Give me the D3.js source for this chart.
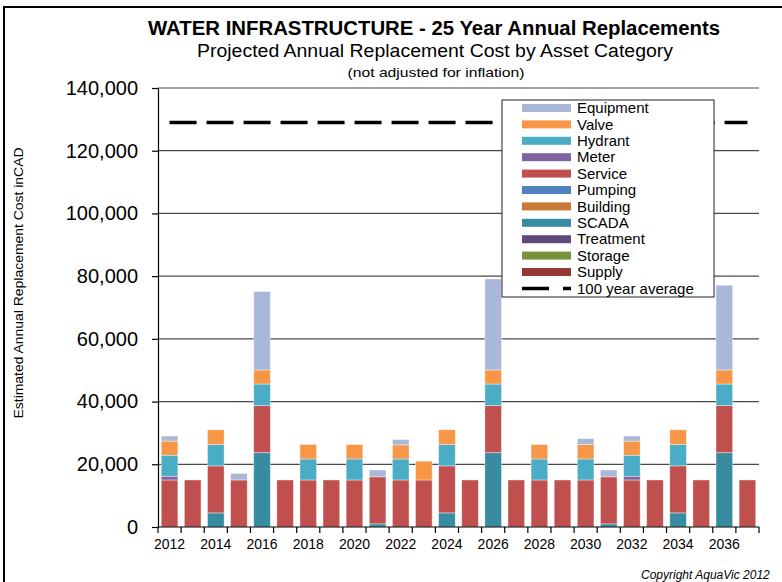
<!DOCTYPE html>
<meta charset="utf-8">
<style>
  body { margin: 0; background: #fff; }
  text { font-family: Arial, "Liberation Sans", sans-serif; fill: #000; }
</style>
<svg width="782" height="582"></svg>
<script src="https://d3js.org/d3.v7.min.js"></script>
<script>

var years = [2012, 2013, 2014, 2015, 2016, 2017, 2018, 2019, 2020, 2021, 2022, 2023, 2024,
             2025, 2026, 2027, 2028, 2029, 2030, 2031, 2032, 2033, 2034, 2035, 2036, 2037];

var supply    = [0,0,0,0,0,0,0,0,0,0,0,0,0,0,0,0,0,0,0,0,0,0,0,0,0,0];
var storage   = [0,0,0,0,0,0,0,0,0,0,0,0,0,0,0,0,0,0,0,0,0,0,0,0,0,0];
var treatment = [0,0,0,0,0,0,0,0,0,0,0,0,0,0,0,0,0,0,0,0,0,0,0,0,0,0];
var scada     = [0,0,4500,0,23700,0,0,0,0,1000,0,0,4500,0,23700,0,0,0,0,1000,0,0,4500,0,23700,0];
var building  = [0,0,0,0,0,0,0,0,0,0,0,0,0,0,0,0,0,0,0,0,0,0,0,0,0,0];
var pumping   = [0,0,0,0,0,0,0,0,0,0,0,0,0,0,0,0,0,0,0,0,0,0,0,0,0,0];
var service   = [15000,15000,15000,15000,15000,15000,15000,15000,15000,15000,15000,15000,15000,
                 15000,15000,15000,15000,15000,15000,15000,15000,15000,15000,15000,15000,15000];
var meter     = [1200,0,0,0,0,0,0,0,0,0,0,0,0,0,0,0,0,0,0,0,1200,0,0,0,0,0];
var hydrant   = [6700,0,6800,0,6900,0,6700,0,6700,0,6700,0,6800,0,6900,0,6700,0,6700,0,6700,0,6800,0,6900,0];
var valve     = [4500,0,4700,0,4500,0,4600,0,4600,0,4500,6000,4700,0,4500,0,4600,0,4600,0,4500,0,4700,0,4500,0];
var equipment = [1600,0,0,2100,25000,0,0,0,0,2200,1700,0,0,0,29000,0,0,0,1900,2200,1600,0,0,0,27000,0];

var average = 129000;

var categories = ["Supply", "Storage", "Treatment", "SCADA", "Building", "Pumping",
                  "Service", "Meter", "Hydrant", "Valve", "Equipment"];
var seriesValues = [supply, storage, treatment, scada, building, pumping,
                    service, meter, hydrant, valve, equipment];
var colors = ["#953735", "#77933C", "#604A7B", "#378CA2", "#C87A3A", "#4F81BD",
              "#C0504D", "#8064A2", "#4BACC6", "#F79646", "#A9B8D9"];

var yTicks = [0, 20000, 40000, 60000, 80000, 100000, 120000, 140000];

var svg = d3.select("svg"),
    plotLeft = 158, plotRight = 759, plotTop = 88, plotBottom = 527;

var rows = years.map(function(yr, i) {
  var r = {year: yr};
  categories.forEach(function(c, j) { r[c] = seriesValues[j][i]; });
  return r;
});

var x = d3.scaleBand()
    .domain(years)
    .range([plotLeft, plotRight])
    .paddingInner(0.28)
    .paddingOuter(0.14);

var y = d3.scaleLinear()
    .domain([0, 140000])
    .range([plotBottom, plotTop]);

var color = d3.scaleOrdinal().domain(categories).range(colors);

// outer frame
svg.append("rect")
    .attr("x", 4).attr("y", 7)
    .attr("width", 800).attr("height", 600)
    .attr("fill", "none")
    .attr("stroke", "#000")
    .attr("stroke-width", 2);

// titles
svg.append("text")
    .attr("x", 434).attr("y", 35)
    .attr("text-anchor", "middle")
    .attr("font-size", 20).attr("font-weight", "bold")
    .attr("textLength", 572).attr("lengthAdjust", "spacingAndGlyphs")
    .text("WATER INFRASTRUCTURE - 25 Year Annual  Replacements");

svg.append("text")
    .attr("x", 435).attr("y", 57)
    .attr("text-anchor", "middle")
    .attr("font-size", 18)
    .attr("textLength", 476).attr("lengthAdjust", "spacingAndGlyphs")
    .text("Projected Annual  Replacement  Cost by Asset Category");

svg.append("text")
    .attr("x", 436).attr("y", 77)
    .attr("text-anchor", "middle")
    .attr("font-size", 13)
    .attr("textLength", 177).attr("lengthAdjust", "spacingAndGlyphs")
    .text("(not adjusted  for inflation)");

// gridlines
svg.append("g")
  .selectAll("line")
  .data(yTicks.slice(1))
  .join("line")
    .attr("x1", plotLeft).attr("x2", plotRight)
    .attr("y1", function(d) { return y(d); })
    .attr("y2", function(d) { return y(d); })
    .attr("stroke", "#4a4a4a")
    .attr("stroke-width", 1.2);

// bars
var stack = d3.stack().keys(categories)(rows);

svg.append("g")
  .selectAll("g")
  .data(stack)
  .join("g")
    .attr("fill", function(d) { return color(d.key); })
  .selectAll("rect")
  .data(function(d) { return d.filter(function(s) { return s[1] > s[0]; }); })
  .join("rect")
    .attr("x", function(d) { return x(d.data.year); })
    .attr("width", x.bandwidth())
    .attr("y", function(d) { return y(d[1]); })
    .attr("height", function(d) { return y(d[0]) - y(d[1]); })
    .attr("stroke", "#fff")
    .attr("stroke-opacity", 0.5)
    .attr("stroke-width", 0.8);

// 100 year average
svg.append("line")
    .attr("x1", x(years[0]) + x.bandwidth() / 2)
    .attr("x2", x(years[years.length - 1]) + x.bandwidth() / 2)
    .attr("y1", y(average)).attr("y2", y(average))
    .attr("stroke", "#000")
    .attr("stroke-width", 3.5)
    .attr("stroke-dasharray", "27,10");

// y axis
var yAxis = svg.append("g")
    .attr("transform", "translate(" + plotLeft + ",0)")
    .call(d3.axisLeft(y).tickValues(yTicks).tickSize(6).tickPadding(14)
      .tickFormat(d3.format(",")));
yAxis.select(".domain").attr("stroke", "#000").attr("stroke-width", 1.2);
yAxis.selectAll(".tick line").attr("stroke", "#000").attr("stroke-width", 1.2);
yAxis.selectAll("text")
    .attr("font-family", "Arial, 'Liberation Sans', sans-serif")
    .attr("font-size", 20).attr("fill", "#000");

// x axis: tick marks on category boundaries, labels every other year
var xAxis = svg.append("g")
    .attr("transform", "translate(0," + plotBottom + ")");
xAxis.append("line")
    .attr("x1", plotLeft).attr("x2", plotRight)
    .attr("stroke", "#000").attr("stroke-width", 1.2);
xAxis.selectAll(".tk")
  .data(years.concat([null]))
  .join("line")
    .attr("class", "tk")
    .attr("x1", function(d, i) { return plotLeft + i * x.step(); })
    .attr("x2", function(d, i) { return plotLeft + i * x.step(); })
    .attr("y1", 0).attr("y2", 6)
    .attr("stroke", "#000").attr("stroke-width", 1.2);
xAxis.selectAll("text")
  .data(years.filter(function(d, i) { return i % 2 === 0; }))
  .join("text")
    .attr("x", function(d) { return x(d) + x.bandwidth() / 2; })
    .attr("y", 22)
    .attr("text-anchor", "middle")
    .attr("font-size", 14)
    .text(function(d) { return d; });

// y axis title
svg.append("text")
    .attr("transform", "translate(23,283) rotate(-90)")
    .attr("text-anchor", "middle")
    .attr("font-size", 13.5)
    .attr("textLength", 271).attr("lengthAdjust", "spacingAndGlyphs")
    .text("Estimated  Annual  Replacement  Cost  inCAD");

// legend
var legend = svg.append("g");
legend.append("rect")
    .attr("x", 502).attr("y", 100)
    .attr("width", 212).attr("height", 197)
    .attr("fill", "#fff")
    .attr("stroke", "#222").attr("stroke-width", 1);

var legendKeys = categories.slice().reverse();
var rowH = 16.4;

var item = legend.selectAll(".item")
  .data(legendKeys)
  .join("g")
    .attr("class", "item")
    .attr("transform", function(d, i) { return "translate(0," + (108 + i * rowH) + ")"; });
item.append("rect")
    .attr("x", 522).attr("y", -4)
    .attr("width", 49).attr("height", 8)
    .attr("fill", function(d) { return color(d); });
item.append("text")
    .attr("x", 577).attr("dy", "0.35em")
    .attr("font-size", 15)
    .text(function(d) { return d; });

var avgRow = legend.append("g")
    .attr("transform", "translate(0," + (108 + legendKeys.length * rowH) + ")");
avgRow.append("line")
    .attr("x1", 522).attr("x2", 571)
    .attr("stroke", "#000").attr("stroke-width", 3.5)
    .attr("stroke-dasharray", "27,14");
avgRow.append("text")
    .attr("x", 577).attr("dy", "0.35em")
    .attr("font-size", 15)
    .text("100 year average");

// copyright
svg.append("text")
    .attr("x", 641).attr("y", 579)
    .attr("font-size", 12).attr("font-style", "italic")
    .text("Copyright AquaVic 2012");

</script>
